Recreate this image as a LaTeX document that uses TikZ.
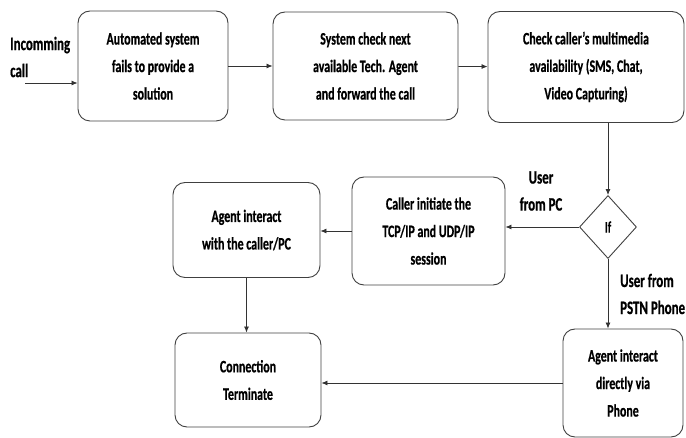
\documentclass[tikz,border=0pt]{standalone}
\usepackage{fontspec}
\setmainfont{Carlito}[FakeStretch=0.68, FakeBold=0.6]
\usetikzlibrary{shapes.geometric,arrows.meta}
\tikzset{
  box/.style={draw=black!75, line width=0.9pt, rounded corners=12pt, align=center,
    font=\bfseries\fontsize{17.5}{27.5}\selectfont, inner sep=0pt},
  arr/.style={draw=black!80, line width=0.8pt, -{Latex[length=6pt,width=5pt]}},
  lbl/.style={font=\bfseries\fontsize{19}{27}\selectfont, inner sep=0pt},
}
\begin{document}
\begin{tikzpicture}[x=1pt,y=-1pt]
\useasboundingbox (0,0) rectangle (686,438);
\node[box, minimum width=150pt, minimum height=110pt] (b1) at (153,66) {Automated system\\fails to provide a\\solution};
\node[box, minimum width=185pt, minimum height=108pt] (b2) at (365.5,66) {System check next\\available Tech. Agent\\and forward the call};
\node[box, minimum width=196pt, minimum height=111pt] (b3) at (586,67) {Check caller's multimedia\\availability (SMS, Chat,\\Video Capturing)};
\node[draw=black!75, line width=0.9pt, shape=diamond, inner sep=0pt, minimum width=57pt, minimum height=63pt,
  font=\bfseries\fontsize{16}{18}\selectfont] (dia) at (608,227) {If};
\node[box, minimum width=153pt, minimum height=108pt] (caller) at (428.5,231) {Caller initiate the\\TCP/IP and UDP/IP\\session};
\node[box, minimum width=147pt, minimum height=95pt] (apc) at (246.5,230) {Agent interact\\with the caller/PC};
\node[box, minimum width=146pt, minimum height=94pt] (conn) at (248,380) {Connection\\Terminate};
\node[box, minimum width=120pt, minimum height=108pt] (adir) at (623,383) {Agent interact\\directly via\\Phone};
\node[lbl, align=left, anchor=west] (inc) at (10,57) {Incomming\\call};
\node[lbl, align=center] (upc) at (541,191) {User\\from PC};
\node[lbl, align=left, anchor=west] (upstn) at (620,294) {User from\\PSTN Phone};
\coordinate (incstart) at (25,83);
\draw[arr] (incstart) -- (incstart -| b1.west);
\draw[arr] (b1) -- (b2);
\draw[arr] (b2) -- (b3);
\draw[arr] (b3.south -| dia) -- (dia.north);
\draw[arr] (dia.west) -- (dia.west -| caller.east);
\draw[arr] (caller.west) -- (caller.west -| apc.east);
\draw[arr] (apc.south) -- (apc.south |- conn.north);
\draw[arr] (dia.south) -- (dia.south |- adir.north);
\draw[arr] (adir.west) -- (adir.west -| conn.east);
\end{tikzpicture}
\end{document}
